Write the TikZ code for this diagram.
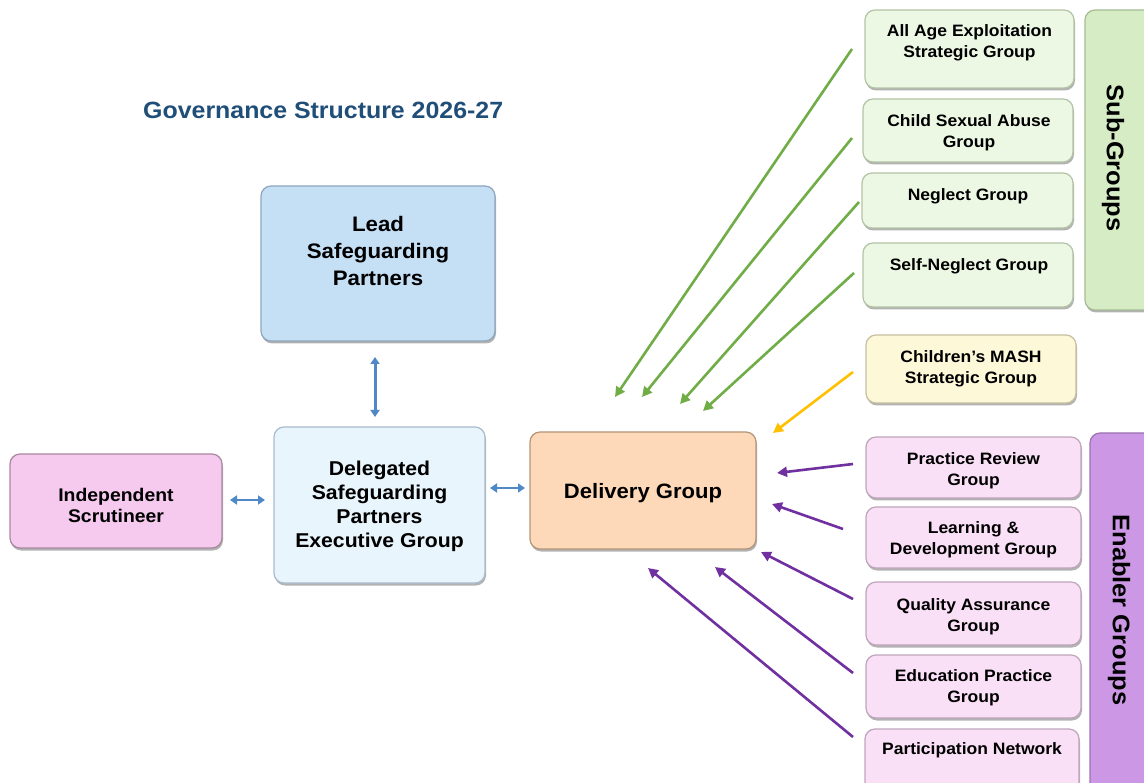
\documentclass[tikz,border=0pt]{standalone}
\usepackage{fontspec}
\setmainfont{Liberation Sans}[FakeStretch=1.06]
\usetikzlibrary{arrows.meta,shadows}
\definecolor{titleblue}{HTML}{1F4E79}
\definecolor{leadfill}{HTML}{C5DFF5}\definecolor{leadline}{HTML}{8EA6BE}
\definecolor{delfill}{HTML}{E9F5FC}\definecolor{delline}{HTML}{A9BCCD}
\definecolor{indfill}{HTML}{F6CAEF}\definecolor{indline}{HTML}{A8889F}
\definecolor{dlvfill}{HTML}{FDD8B9}\definecolor{dlvline}{HTML}{B39678}
\definecolor{subfill}{HTML}{EDF8E4}\definecolor{subline}{HTML}{B3C4A6}
\definecolor{subbar}{HTML}{D6ECC5}\definecolor{subbarline}{HTML}{A6BC96}
\definecolor{mashfill}{HTML}{FDF8D8}\definecolor{mashline}{HTML}{C6C0A0}
\definecolor{enfill}{HTML}{F9E0F6}\definecolor{enline}{HTML}{BFA5BB}
\definecolor{enbar}{HTML}{CC98E6}\definecolor{enbarline}{HTML}{9C72B2}
\definecolor{agreen}{HTML}{70AD47}
\definecolor{ayellow}{HTML}{FFC000}
\definecolor{apurple}{HTML}{7030A0}
\definecolor{ablue}{HTML}{4F88C6}
\tikzset{
  bx/.style 2 args={draw=#2, fill=#1, line width=1.2pt, rounded corners=10pt, inner sep=0pt,
    drop shadow={shadow xshift=1pt, shadow yshift=-2.5pt, opacity=.3, fill=black}},
  txt/.style={align=center, font=\bfseries\fontsize{16.5}{21}\selectfont, text=black, inner sep=0pt, yshift=-2.5pt},
  vtxt/.style={align=center, font=\bfseries\fontsize{24}{28}\selectfont, text=black, inner sep=0pt, rotate=-90},
  garrow/.style={draw=agreen, line width=2.6pt, -{Triangle[length=10pt,width=10pt]}},
  yarrow/.style={draw=ayellow, line width=2.6pt, -{Triangle[length=10pt,width=10pt]}},
  parrow/.style={draw=apurple, line width=2.6pt, -{Triangle[length=10pt,width=10pt]}},
  barrow/.style={draw=ablue, line width=#1, {Triangle[length=7pt,width=9pt]}-{Triangle[length=7pt,width=9pt]}},
}
\begin{document}
\begin{tikzpicture}[x=1pt,y=-1pt]
\clip (0,0) rectangle (1144,783);
\fill[white] (0,0) rectangle (1144,783);

% title
\node[anchor=west, inner sep=0pt, text=titleblue, font=\bfseries\fontsize{23.5}{27}\selectfont] (title) at (143,110) {Governance Structure 2026-27};

% main boxes
\node[bx={leadfill}{leadline}, minimum width=234pt, minimum height=155pt] (lead) at (378,263.5) {};
\node[txt, font=\bfseries\fontsize{21}{27}\selectfont] (leadt) at (378,248) {Lead\\Safeguarding\\Partners};

\node[bx={delfill}{delline}, minimum width=211pt, minimum height=156pt] (dsp) at (379.5,505) {};
\node[txt, font=\bfseries\fontsize{20}{24}\selectfont] (dspt) at (379.5,504) {Delegated\\Safeguarding\\Partners\\Executive Group};

\node[bx={indfill}{indline}, minimum width=212pt, minimum height=94pt] (ind) at (116,501) {};
\node[txt, font=\bfseries\fontsize{18.3}{21}\selectfont] (indt) at (116,503) {Independent\\Scrutineer};

\node[bx={dlvfill}{dlvline}, minimum width=226pt, minimum height=117pt] (dlv) at (643,490.5) {};
\node[txt, font=\bfseries\fontsize{20.8}{24}\selectfont] (dlvt) at (643,491) {Delivery Group};

% sub-groups
\node[bx={subfill}{subline}, minimum width=209pt, minimum height=78pt] (s1) at (969.5,49) {};
\node[txt] (s1t) at (969.5,40) {All Age Exploitation\\Strategic Group};
\node[bx={subfill}{subline}, minimum width=210pt, minimum height=63pt] (s2) at (968,130.5) {};
\node[txt] (s2t) at (969,130.5) {Child Sexual Abuse\\Group};
\node[bx={subfill}{subline}, minimum width=211pt, minimum height=55pt] (s3) at (967.5,200.5) {};
\node[txt] (s3t) at (968,194) {Neglect Group};
\node[bx={subfill}{subline}, minimum width=210pt, minimum height=64pt] (s4) at (968,275) {};
\node[txt] (s4t) at (969,264) {Self-Neglect Group};
\node[bx={subbar}{subbarline}, minimum width=70pt, minimum height=300pt] (sbar) at (1120,160) {};
\node[vtxt] (sbart) at (1113,158) {Sub-Groups};

% MASH
\node[bx={mashfill}{mashline}, minimum width=210pt, minimum height=68pt] (mash) at (971,369) {};
\node[txt] (masht) at (971,366) {Children’s MASH\\Strategic Group};

% enabler groups
\node[bx={enfill}{enline}, minimum width=215pt, minimum height=61pt] (e1) at (973.5,467.5) {};
\node[txt] (e1t) at (973.5,468) {Practice Review\\Group};
\node[bx={enfill}{enline}, minimum width=215pt, minimum height=61pt] (e2) at (973.5,537.5) {};
\node[txt] (e2t) at (973.5,537.5) {Learning \&\\Development Group};
\node[bx={enfill}{enline}, minimum width=215pt, minimum height=63pt] (e3) at (973.5,613.5) {};
\node[txt] (e3t) at (973.5,614.5) {Quality Assurance\\Group};
\node[bx={enfill}{enline}, minimum width=215pt, minimum height=63pt] (e4) at (973.5,686.5) {};
\node[txt] (e4t) at (973.5,685.5) {Education Practice\\Group};
\node[bx={enfill}{enline}, minimum width=214pt, minimum height=70pt] (e5) at (972,764) {};
\node[txt] (e5t) at (972,748) {Participation Network};
\node[bx={enbar}{enbarline}, minimum width=70pt, minimum height=370pt] (ebar) at (1125,618) {};
\node[vtxt] (ebart) at (1119,610) {Enabler Groups};

% arrow end points
\coordinate (g1s) at (852,49);  \coordinate (g1e) at (615,397);
\coordinate (g2s) at (852,138); \coordinate (g2e) at (642,397);
\coordinate (g3s) at (859,202); \coordinate (g3e) at (680,404);
\coordinate (g4s) at (854,273); \coordinate (g4e) at (703,411);
\coordinate (ys) at (853,372);  \coordinate (ye) at (773,433);
\coordinate (p1s) at (853,464); \coordinate (p1e) at (777,473);
\coordinate (p2s) at (843,529); \coordinate (p2e) at (772,504);
\coordinate (p3s) at (853,599); \coordinate (p3e) at (761,552);
\coordinate (p4s) at (853,673); \coordinate (p4e) at (715,567);
\coordinate (p5s) at (853,737); \coordinate (p5e) at (648,568);

\draw[garrow] (g1s) -- (g1e);
\draw[garrow] (g2s) -- (g2e);
\draw[garrow] (g3s) -- (g3e);
\draw[garrow] (g4s) -- (g4e);
\draw[yarrow] (ys) -- (ye);
\draw[parrow] (p1s) -- (p1e);
\draw[parrow] (p2s) -- (p2e);
\draw[parrow] (p3s) -- (p3e);
\draw[parrow] (p4s) -- (p4e);
\draw[parrow] (p5s) -- (p5e);

% blue double arrows
\coordinate (bv1) at (375,357); \coordinate (bv2) at (375,417);
\coordinate (bl1) at (230,500); \coordinate (bl2) at (265,500);
\coordinate (br1) at (490,488); \coordinate (br2) at (525,488);
\draw[barrow=3pt] (bv1) -- (bv2);
\draw[barrow=2pt] (bl1) -- (bl2);
\draw[barrow=2pt] (br1) -- (br2);
\end{tikzpicture}
\end{document}
